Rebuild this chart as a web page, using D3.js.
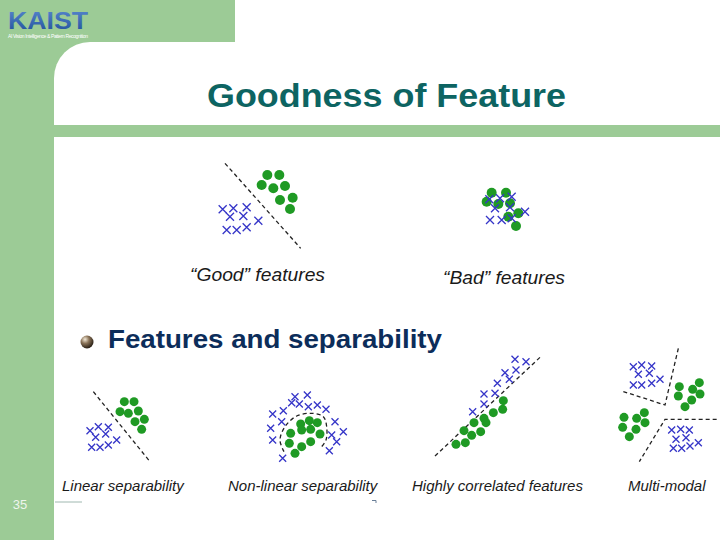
<!DOCTYPE html>
<html>
<head>
<meta charset="utf-8">
<script src="https://cdn.jsdelivr.net/npm/d3@7"></script>
<style>
  body { margin: 0; background: #fff; }
  svg { display: block; }
</style>
</head>
<body>
<div id="slide"></div>
<script>
// panel data, in panel units (1 unit = 1/3 px)
var goodCircles = [[262,75],[298,75],[245,105],[280,115],[315,108],[300,150],[338,143],[330,177]];
var goodCrosses = [[128,178],[160,175],[200,172],[150,200],[190,198],[235,212],[140,240],[170,240],[200,232]];
var goodLine = [[135,40],[362,295]];

var badCircles = [[185,68],[228,68],[170,95],[205,102],[240,100],[235,140],[265,130],[258,168]];
var badCrosses = [[178,88],[210,85],[245,80],[195,115],[240,112],[180,150],[215,150],[245,145],[285,125]];

var linCircles = [[208,65],[237,65],[195,95],[220,100],[250,93],[240,125],[268,118],[260,148]];
var linCrosses = [[105,152],[130,140],[160,142],[122,172],[152,162],[110,202],[135,202],[160,195],[185,180]];
var linLine = [[115,35],[285,245]];

var nlCircles = [[242,132],[268,122],[292,128],[212,160],[245,150],[272,148],[300,162],[208,190],[245,200],[272,185],[225,220]];
var nlCrosses = [[225,50],[262,45],[215,68],[238,72],[265,80],[292,75],[318,88],[190,92],[158,102],[185,125],[152,145],
                 [345,125],[370,155],[335,165],[350,185],[158,180],[328,212],[188,235]];
var nlCurve = [[192,215],[180,180],[195,140],[230,108],[275,100],[310,110],[320,140],[318,180],[305,200]];

var corCircles = [[310,152],[308,178],[280,188],[252,205],[258,218],[222,218],[242,245],[192,242],[215,256],[168,283],[196,278]];
var corCrosses = [[345,28],[378,35],[315,68],[348,60],[328,88],[292,100],[252,132],[285,130],[252,162],[218,185]];
var corLine = [[105,318],[420,22]];

var mmCircles = [[238,140],[298,128],[278,148],[235,168],[300,162],[275,180],[255,200],
                 [133,218],[72,232],[110,235],[135,248],[68,262],[108,268],[88,290]];
var mmCrosses = [[100,80],[125,75],[155,78],[115,103],[148,100],[100,135],[125,135],[155,130],[180,118],
                 [215,270],[242,268],[268,270],[228,298],[258,293],[220,325],[245,325],[270,318],[295,308]];
var mmLines = [[[235,25],[195,195],[62,152]], [[350,238],[195,238],[118,365]]];

var labels = ["\u201CGood\u201D features", "\u201CBad\u201D features", "Linear separability",
              "Non-linear separability", "Highly correlated features", "Multi-modal"];

var width = 720, height = 540;
var green = "#9ccb96";
var font = "Liberation Sans, Arial, sans-serif";

var svg = d3.select("#slide").append("svg")
    .attr("width", width)
    .attr("height", height);

var defs = svg.append("defs");
var ball = defs.append("radialGradient").attr("id", "ball")
    .attr("cx", "35%").attr("cy", "30%").attr("r", "70%");
ball.append("stop").attr("offset", "0%").attr("stop-color", "#f4ead8");
ball.append("stop").attr("offset", "45%").attr("stop-color", "#8a7358");
ball.append("stop").attr("offset", "100%").attr("stop-color", "#2b2116");

var logoGrad = defs.append("linearGradient").attr("id", "logo")
    .attr("x1", 0).attr("y1", 0).attr("x2", 0).attr("y2", 1);
logoGrad.append("stop").attr("offset", "0%").attr("stop-color", "#5a8ad0");
logoGrad.append("stop").attr("offset", "100%").attr("stop-color", "#1f4f9a");

// background frame
svg.append("rect").attr("width", width).attr("height", height).attr("fill", "#fff");
svg.append("rect").attr("x", 0).attr("y", 0).attr("width", 235).attr("height", 82).attr("fill", green);
svg.append("rect").attr("x", 0).attr("y", 0).attr("width", 54).attr("height", height).attr("fill", green);
svg.append("rect").attr("x", 54).attr("y", 42).attr("width", 760).attr("height", 83)
    .attr("rx", 36).attr("fill", "#fff");
svg.append("rect").attr("x", 54).attr("y", 125).attr("width", width - 54).attr("height", 12).attr("fill", green);

// logo
svg.append("text").attr("x", 8).attr("y", 29)
    .attr("font-family", font).attr("font-weight", "bold")
    .attr("font-size", 24).attr("fill", "url(#logo)")
    .attr("textLength", 80).attr("lengthAdjust", "spacingAndGlyphs").text("KAIST");
svg.append("text").attr("x", 8).attr("y", 38)
    .attr("font-family", font)
    .attr("font-size", 5).attr("fill", "#fff")
    .attr("textLength", 80).text("AI Vision Intelligence & Pattern Recognition");

// title
svg.append("text").attr("x", 207).attr("y", 107)
    .attr("font-family", font).attr("font-weight", "bold")
    .attr("font-size", 34).attr("fill", "#0d6462")
    .attr("textLength", 359).attr("lengthAdjust", "spacingAndGlyphs").text("Goodness of Feature");

// bullet
svg.append("circle").attr("cx", 87).attr("cy", 342).attr("r", 6.5).attr("fill", "url(#ball)");
svg.append("text").attr("x", 108).attr("y", 348)
    .attr("font-family", font).attr("font-weight", "bold")
    .attr("font-size", 26).attr("fill", "#0c2d5a")
    .attr("textLength", 334).attr("lengthAdjust", "spacingAndGlyphs").text("Features and separability");

// page number and footer marks
svg.append("text").attr("x", 20).attr("y", 509).attr("text-anchor", "middle")
    .attr("font-family", font)
    .attr("font-size", 13).attr("fill", "#eef5ec").text("35");
svg.append("line").attr("x1", 55).attr("x2", 82).attr("y1", 502).attr("y2", 502)
    .attr("stroke", "#9fb8b0").attr("stroke-width", 1);
svg.append("path").attr("d", "M372,500.5 H376 V503").attr("fill", "none")
    .attr("stroke", "#6a7f98").attr("stroke-width", 1);

function panel(ox, oy, w, h) {
  var g = svg.append("g");
  var x = d3.scaleLinear().domain([0, w]).range([ox, ox + w / 3]);
  var y = d3.scaleLinear().domain([0, h]).range([oy, oy + h / 3]);
  return {g: g, x: x, y: y};
}

function dashed(p, pts, curve) {
  var line = d3.line()
      .x(function(d) { return p.x(d[0]); })
      .y(function(d) { return p.y(d[1]); })
      .curve(curve || d3.curveLinear);
  p.g.append("path").attr("d", line(pts))
      .attr("fill", "none").attr("stroke", "#222")
      .attr("stroke-width", 1.3).attr("stroke-dasharray", "4,3");
}

function circles(p, pts, r) {
  p.g.selectAll(null).data(pts).enter().append("circle")
      .attr("cx", function(d) { return p.x(d[0]); })
      .attr("cy", function(d) { return p.y(d[1]); })
      .attr("r", r)
      .attr("fill", "#1f9a24");
}

function crosses(p, pts, s) {
  p.g.selectAll(null).data(pts).enter().append("path")
      .attr("d", function(d) {
        var cx = p.x(d[0]), cy = p.y(d[1]);
        return "M" + (cx - s) + "," + (cy - s) + "L" + (cx + s) + "," + (cy + s) +
               "M" + (cx - s) + "," + (cy + s) + "L" + (cx + s) + "," + (cy - s);
      })
      .attr("stroke", "#3535c8").attr("stroke-width", 1.3).attr("fill", "none");
}

function label(txt, x, y, size, len) {
  var t = svg.append("text").attr("x", x).attr("y", y)
      .attr("font-family", font)
      .attr("font-style", "italic").attr("font-size", size)
      .attr("fill", "#1a1a1a").text(txt);
  if (len) t.attr("textLength", len).attr("lengthAdjust", "spacingAndGlyphs");
}

// "Good" features
var p1 = panel(180, 150, 480, 420);
dashed(p1, goodLine);
circles(p1, goodCircles, 5);
crosses(p1, goodCrosses, 4);
label(labels[0], 190, 281, 19, 135);

// "Bad" features
var p2 = panel(430, 170, 450, 360);
circles(p2, badCircles, 5);
crosses(p2, badCrosses, 4);
label(labels[1], 443, 284, 19, 122);

// Linear separability
var p3 = panel(55, 380, 420, 360);
dashed(p3, linLine);
circles(p3, linCircles, 4.5);
crosses(p3, linCrosses, 3.5);
label(labels[2], 62, 491, 15);

// Non-linear separability
var p4 = panel(220, 380, 510, 360);
dashed(p4, nlCurve, d3.curveCatmullRom);
circles(p4, nlCircles, 4.5);
crosses(p4, nlCrosses, 3.5);
label(labels[3], 228, 491, 15);

// Highly correlated features
var p5 = panel(400, 350, 600, 450);
dashed(p5, corLine);
circles(p5, corCircles, 4.5);
crosses(p5, corCrosses, 3.5);
label(labels[4], 412, 491, 15);

// Multi-modal
var p6 = panel(600, 340, 360, 480);
mmLines.forEach(function(l) { dashed(p6, l); });
circles(p6, mmCircles, 4.5);
crosses(p6, mmCrosses, 3.5);
label(labels[5], 628, 491, 15);
</script>
</body>
</html>
